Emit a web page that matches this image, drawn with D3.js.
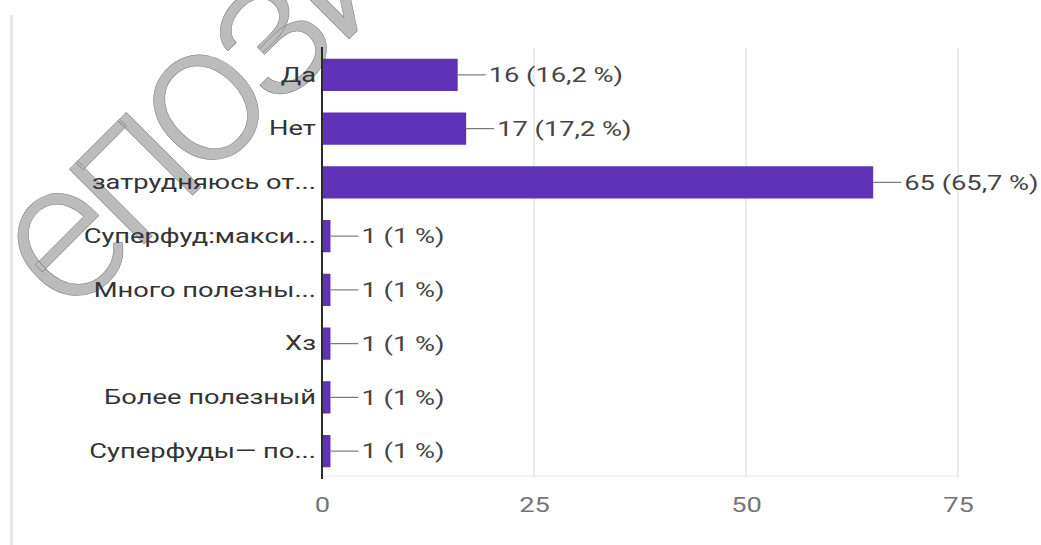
<!DOCTYPE html>
<html>
<head>
<meta charset="utf-8">
<script src="https://cdn.jsdelivr.net/npm/d3@7"></script>
<style>
  html, body { margin: 0; padding: 0; background: #fff; }
  svg { display: block; }
  text { font-family: Roboto, "Noto Sans", sans-serif; }
</style>
</head>
<body>
<svg id="chart" width="1041" height="545"></svg>
<script>
// Survey answers and their counts
const categories = [
  "Да",
  "Нет",
  "затрудняюсь от...",
  "Суперфуд:макси...",
  "Много полезны...",
  "Хз",
  "Более полезный",
  "Суперфуды— по..."
];
const counts = [16, 17, 65, 1, 1, 1, 1, 1];
const percents = ["16,2", "17,2", "65,7", "1", "1", "1", "1", "1"];
const xTicks = [0, 25, 50, 75];

const svg = d3.select("#chart");
const W = 1041, H = 545;
const TEXT_SX = 1.3; // horizontal widening applied to chart text
const FS = 21;

const x = d3.scaleLinear().domain([0, 75]).range([322, 958]);
const y = d3.scaleBand().domain(categories).range([48, 478])
  .paddingInner(0.4).paddingOuter(0.2);

// card edge on the left
svg.append("rect").attr("x", 10).attr("y", 15).attr("width", 3).attr("height", H - 15)
  .attr("fill", "#e6e6e6");

// repository watermark
svg.append("text")
  .attr("class", "wm")
  .attr("transform", "translate(68,320) rotate(-45)")
  .attr("font-size", 200)
  .attr("font-weight", 300)
  .attr("letter-spacing", -12)
  .attr("fill", "#bcbcbc")
  .attr("stroke", "#777")
  .attr("stroke-width", 0.5)
  .text("епозит");

// vertical gridlines
svg.append("g").selectAll("line").data(xTicks.slice(1)).join("line")
  .attr("x1", d => x(d)).attr("x2", d => x(d))
  .attr("y1", 48).attr("y2", 478)
  .attr("stroke", "#e4e4e4").attr("stroke-width", 1.5);
svg.append("line").attr("x1", x(0)).attr("x2", x(75)).attr("y1", 476).attr("y2", 476)
  .attr("stroke", "#eeeeee").attr("stroke-width", 1.5);

// x tick labels
const xAxis = d3.axisBottom(x).tickValues(xTicks).tickSize(0).tickPadding(0);
const gx = svg.append("g").attr("transform", "translate(0,497)").call(xAxis);
gx.select(".domain").remove();
gx.selectAll("text")
  .attr("font-family", "Roboto, sans-serif")
  .attr("font-size", FS).attr("fill", "#757575")
  .attr("dy", "0.71em").attr("y", 0);

// bars
svg.append("g").selectAll("rect").data(categories).join("rect")
  .attr("x", x(0))
  .attr("y", d => y(d))
  .attr("width", (d, i) => x(counts[i]) - x(0))
  .attr("height", y.bandwidth())
  .attr("fill", "#5e33b8");

// category axis
const yAxis = d3.axisLeft(y).tickSize(0).tickPadding(6);
const gy = svg.append("g").attr("transform", `translate(${x(0)},0)`).call(yAxis);
gy.select(".domain").attr("d", `M0,47V479`).attr("stroke", "#2b2b2b").attr("stroke-width", 2);
gy.selectAll("text")
  .attr("font-family", "Roboto, sans-serif")
  .attr("font-size", FS).attr("fill", "#333");

// value labels with leader lines
const vals = svg.append("g");
categories.forEach((c, i) => {
  const x0 = x(counts[i]);
  const cy = y(c) + y.bandwidth() / 2;
  vals.append("line").attr("x1", x0).attr("x2", x0 + 28)
    .attr("y1", cy).attr("y2", cy).attr("stroke", "#7a7a7a").attr("stroke-width", 1.2);
  vals.append("text").attr("x", x0 + 31).attr("y", cy).attr("dy", "0.35em")
    .attr("font-size", FS).attr("fill", "#454545")
    .text(`${counts[i]} (${percents[i]} %)`);
});

// widen chart text horizontally around its anchor point
svg.selectAll("text:not(.wm)").each(function () {
  const t = d3.select(this);
  const b = this.getBBox();
  const a = getComputedStyle(this).textAnchor;
  const ax = a === "end" ? b.x + b.width : a === "middle" ? b.x + b.width / 2 : b.x;
  const prev = t.attr("transform") || "";
  t.attr("transform", `${prev} translate(${ax},0) scale(${TEXT_SX},1) translate(${-ax},0)`);
});
</script>
</body>
</html>
